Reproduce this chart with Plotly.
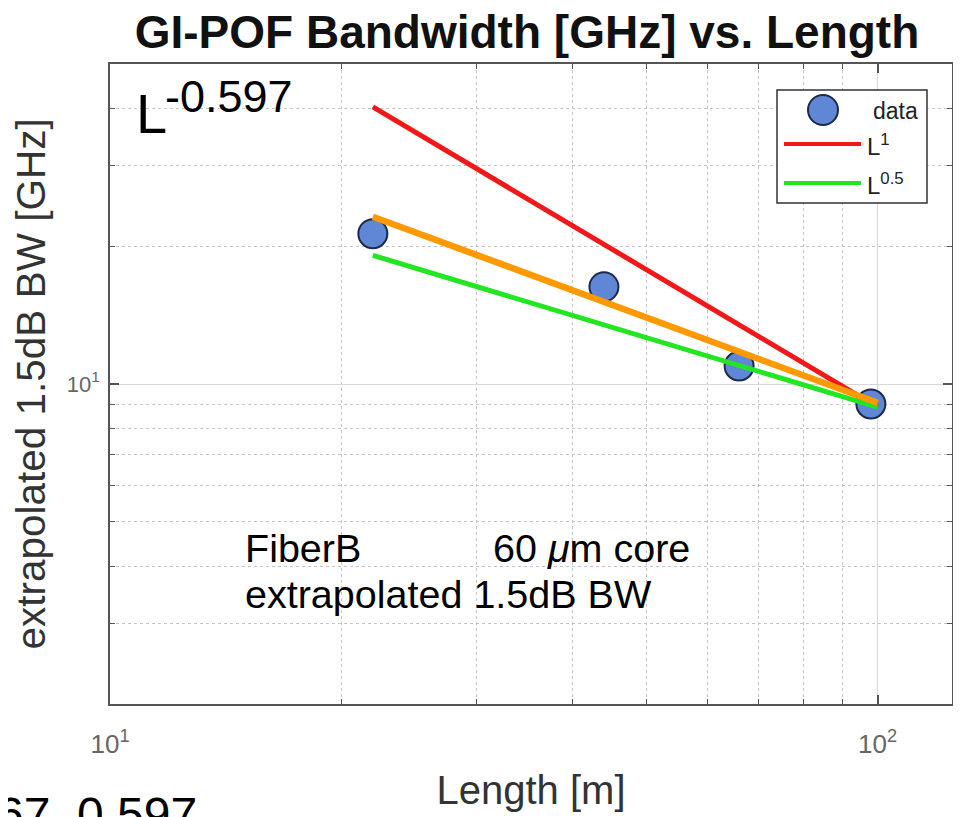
import plotly.graph_objects as go

# ---- data ----
lengths_m = [22, 44, 66, 98]
bw_ghz = [21.3, 16.3, 10.95, 9.04]

fit_x = [22, 100]
red_y = [40.3, 8.9]      # L^1 reference
green_y = [19.1, 8.9]    # L^0.5 reference
orange_y = [23.2, 9.1]   # L^-0.597 fit

x_minor = [20, 30, 40, 50, 60, 70, 80, 90]
y_minor = [3, 4, 5, 6, 7, 8, 9, 20, 30, 40]

FONT = "Liberation Sans, Arial, sans-serif"

# The page body has an 8px margin; all geometry below is in page pixels.
OFF = 8
PW, PH = 961, 817
W, H = PW - OFF, PH - OFF
L_pg, R_pg, T_pg, B_pg = 110, 952, 64, 704


def px(x):
    return (x - L_pg) / (R_pg - L_pg)


def py(y):
    return (B_pg - y) / (B_pg - T_pg)


fig = go.Figure()

fig.add_trace(go.Scatter(
    x=lengths_m, y=bw_ghz, mode="markers", name="data",
    marker=dict(size=29, color="#5f87d5", line=dict(color="#1c2a48", width=2)),
    showlegend=False))
fig.add_trace(go.Scatter(x=fit_x, y=red_y, mode="lines", name="L1",
                         line=dict(color="#f01818", width=5), showlegend=False))
fig.add_trace(go.Scatter(x=fit_x, y=green_y, mode="lines", name="L0.5",
                         line=dict(color="#22e622", width=5), showlegend=False))
fig.add_trace(go.Scatter(x=fit_x, y=orange_y, mode="lines", name="fit",
                         line=dict(color="#ff9900", width=6.5), showlegend=False))

grid_minor = "#c4c4c4"
grid_major = "#d8d8d8"
axcol = "#555555"

fig.update_xaxes(
    type="log", range=[1, 2.0969], automargin=False,
    tickmode="array", tickvals=[10, 100],
    ticktext=["10<sup>1</sup>", "10<sup>2</sup>"],
    tickfont=dict(family=FONT, size=26, color="#666666"),
    ticks="inside", ticklen=9, tickwidth=1.5, tickcolor=axcol,
    ticklabelstandoff=16,
    showline=True, linecolor=axcol, linewidth=1.5, mirror="allticks",
    showgrid=True, gridcolor=grid_major, gridwidth=1,
    minor=dict(tickmode="array", tickvals=x_minor, ticks="inside", ticklen=5,
               tickcolor=axcol, tickwidth=1, showgrid=True, gridcolor=grid_minor,
               griddash="dot", gridwidth=1),
    title=dict(text="Length [m]", font=dict(family=FONT, size=40, color="#333333"),
               standoff=18),
    zeroline=False,
)
fig.update_yaxes(
    type="log", range=[0.301, 1.699], automargin=False,
    tickmode="array", tickvals=[10], ticktext=["10<sup>1</sup>"],
    tickfont=dict(family=FONT, size=22, color="#666666"),
    ticks="inside", ticklen=9, tickwidth=1.5, tickcolor=axcol,
    ticklabelstandoff=4,
    showline=True, linecolor=axcol, linewidth=1.5, mirror="allticks",
    showgrid=True, gridcolor=grid_major, gridwidth=1,
    minor=dict(tickmode="array", tickvals=y_minor, ticks="inside", ticklen=5,
               tickcolor=axcol, tickwidth=1, showgrid=True, gridcolor=grid_minor,
               griddash="dot", gridwidth=1),
    title=dict(text="extrapolated 1.5dB BW [GHz]",
               font=dict(family=FONT, size=40.5, color="#333333"), standoff=12),
    zeroline=False,
)

annotations = [
    dict(text="L", x=px(134), y=py(147), xanchor="left", yanchor="bottom",
         font=dict(family=FONT, size=56, color="#000")),
    dict(text="-0.597", x=px(163), y=py(124), xanchor="left", yanchor="bottom",
         font=dict(family=FONT, size=45, color="#000")),
    dict(text="FiberB", x=px(243), y=py(548), xanchor="left", yanchor="middle",
         font=dict(family=FONT, size=39.5, color="#000")),
    dict(text="60 <i>μ</i>m core", x=px(491), y=py(548), xanchor="left", yanchor="middle",
         font=dict(family=FONT, size=39.5, color="#000")),
    dict(text="extrapolated 1.5dB BW", x=px(243), y=py(594), xanchor="left",
         yanchor="middle", font=dict(family=FONT, size=39.5, color="#000")),
    dict(text="67, 0.597", x=px(199), y=py(786), xanchor="right", yanchor="top",
         font=dict(family=FONT, size=48, color="#000")),
    # legend texts
    dict(text="data", x=px(871), y=py(111), xanchor="left", yanchor="middle",
         font=dict(family=FONT, size=23, color="#222")),
    dict(text="L<sup>1</sup>", x=px(865), y=py(145), xanchor="left", yanchor="middle",
         font=dict(family=FONT, size=24, color="#222")),
    dict(text="L<sup>0.5</sup>", x=px(865), y=py(184), xanchor="left", yanchor="middle",
         font=dict(family=FONT, size=24, color="#222")),
]
for a in annotations:
    a.update(xref="paper", yref="paper", showarrow=False)

shapes = [
    # legend box
    dict(type="rect", x0=px(777), x1=px(927), y0=py(90), y1=py(203),
         line=dict(color="#333333", width=1.5), fillcolor="white", layer="above"),
    dict(type="circle", x0=px(808), x1=px(838), y0=py(95), y1=py(125),
         line=dict(color="#1c2a48", width=2), fillcolor="#5f87d5", layer="above"),
    dict(type="line", x0=px(784), x1=px(861), y0=py(144), y1=py(144),
         line=dict(color="#f01818", width=4), layer="above"),
    dict(type="line", x0=px(784), x1=px(861), y0=py(183), y1=py(183),
         line=dict(color="#22e622", width=4), layer="above"),
]
for s in shapes:
    s.update(xref="paper", yref="paper")

fig.update_layout(
    width=W, height=H,
    margin=dict(l=L_pg - OFF, r=PW - R_pg, t=T_pg - OFF, b=PH - B_pg, autoexpand=False),
    paper_bgcolor="white", plot_bgcolor="white",
    title=dict(text="<b>GI-POF Bandwidth [GHz] vs. Length</b>",
               font=dict(family=FONT, size=46, color="#111"),
               x=(527 - OFF) / W, xanchor="center", y=1 - (32 - OFF) / H, yanchor="middle",
               xref="container", yref="container"),
    annotations=annotations, shapes=shapes,
    showlegend=False,
)

fig.write_html("out.html")
